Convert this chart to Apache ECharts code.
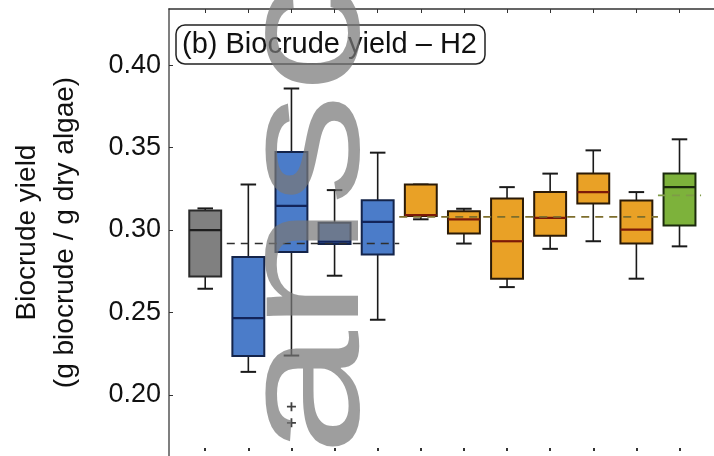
<!DOCTYPE html>
<html>
<head>
<meta charset="utf-8">
<script src="https://cdn.jsdelivr.net/npm/echarts@6/dist/echarts.min.js"></script>
<style>
  html, body { margin: 0; padding: 0; background: #fff; }
  #chart { width: 714px; height: 456px; }
</style>
</head>
<body>
<div id="chart"></div>
<script>
// box positions along x (one per reactor run)
var positions = [1, 2, 3, 4, 5, 6, 7, 8, 9, 10, 11, 12];
// group of each box: ref / blue / orange / green
var groups = ['ref', 'blue', 'blue', 'blue', 'blue', 'orange', 'orange', 'orange', 'orange', 'orange', 'orange', 'green'];
// [min, q1, median, q3, max]
var boxStats = [
    [0.2644, 0.2719, 0.2999, 0.3118, 0.3131],
    [0.2140, 0.2237, 0.2466, 0.2837, 0.3276],
    [0.2239, 0.2867, 0.3147, 0.3473, 0.3858],
    [0.2723, 0.2915, 0.2930, 0.3044, 0.3242],
    [0.2456, 0.2851, 0.3050, 0.3181, 0.3469],
    [0.3065, 0.3085, 0.3090, 0.3276, 0.3276],
    [0.2918, 0.2979, 0.3064, 0.3114, 0.3129],
    [0.2654, 0.2705, 0.2932, 0.3191, 0.3260],
    [0.2886, 0.2966, 0.3074, 0.3230, 0.3342],
    [0.2932, 0.3161, 0.3230, 0.3342, 0.3483],
    [0.2705, 0.2918, 0.3003, 0.3179, 0.3230],
    [0.2901, 0.3027, 0.3260, 0.3342, 0.3550]
];
// outliers [position, value]
var outliers = [[3, 0.1929], [3, 0.1831]];
// group means and their x span
var meanGroups = ['blue', 'orange', 'green'];
var meanValues = [0.2918, 0.3080, 0.3210];
var meanSpans = [[1.5, 5.5], [5.5, 11.5], [11.5, 12.5]];
var yTicks = [0.20, 0.25, 0.30, 0.35, 0.40];

var fill = { ref: '#808080', blue: '#4b7cc9', orange: '#e9a126', green: '#7db23b' };
var edge = { ref: '#2a2a2a', blue: '#14244a', orange: '#2b1a06', green: '#1b2a0c' };
var mid = { ref: '#1e1e1e', blue: '#13245a', orange: '#7c1a08', green: '#1b2a0c' };
var meanColor = { blue: '#2e2e2e', orange: '#7d6e2c', green: '#7f9b47' };

var font = '"Liberation Sans", Arial, Helvetica, sans-serif';

var boxData = positions.map(function (p, i) {
    return [p].concat(boxStats[i]);
});

var series = [{
    type: 'custom',
    xAxisIndex: 0,
    data: boxData,
    encode: { x: 0, y: [1, 2, 3, 4, 5] },
    z: 3,
    renderItem: function (params, api) {
        var g = groups[params.dataIndex];
        var x = api.value(0);
        var half = api.size([0.74, 0])[0] / 2;
        var cap = api.size([0.36, 0])[0] / 2;
        var pMin = api.coord([x, api.value(1)]);
        var pQ1 = api.coord([x, api.value(2)]);
        var pMed = api.coord([x, api.value(3)]);
        var pQ3 = api.coord([x, api.value(4)]);
        var pMax = api.coord([x, api.value(5)]);
        var ls = { stroke: '#1a1a1a', lineWidth: 1.6 };
        return {
            type: 'group',
            children: [
                { type: 'line', shape: { x1: pMax[0], y1: pMax[1], x2: pQ3[0], y2: pQ3[1] }, style: ls },
                { type: 'line', shape: { x1: pQ1[0], y1: pQ1[1], x2: pMin[0], y2: pMin[1] }, style: ls },
                { type: 'line', shape: { x1: pMax[0] - cap, y1: pMax[1], x2: pMax[0] + cap, y2: pMax[1] }, style: { stroke: '#1a1a1a', lineWidth: 2 } },
                { type: 'line', shape: { x1: pMin[0] - cap, y1: pMin[1], x2: pMin[0] + cap, y2: pMin[1] }, style: { stroke: '#1a1a1a', lineWidth: 2 } },
                { type: 'rect', shape: { x: pQ3[0] - half, y: pQ3[1], width: half * 2, height: pQ1[1] - pQ3[1] },
                  style: { fill: fill[g], stroke: edge[g], lineWidth: 2 } },
                { type: 'line', shape: { x1: pMed[0] - half, y1: pMed[1], x2: pMed[0] + half, y2: pMed[1] },
                  style: { stroke: mid[g], lineWidth: 2.2 } }
            ]
        };
    }
}, {
    type: 'scatter',
    xAxisIndex: 0,
    data: outliers,
    symbol: 'path://M4,0H6V4H10V6H6V10H4V6H0V4H4Z',
    symbolSize: 9,
    itemStyle: { color: '#111' },
    z: 4
}];

meanGroups.forEach(function (g, i) {
    series.push({
        type: 'line',
        xAxisIndex: 0,
        data: [[meanSpans[i][0], meanValues[i]], [meanSpans[i][1], meanValues[i]]],
        symbol: 'none',
        lineStyle: { color: meanColor[g], width: 1.6, type: [8, 6] },
        z: 5,
        silent: true
    });
});

var chart = echarts.init(document.getElementById('chart'));
chart.setOption({
    animation: false,
    backgroundColor: '#fff',
    title: {
        text: '(b) Biocrude yield – H2',
        left: 176,
        top: 25,
        padding: [3, 8, 3, 6],
        borderColor: '#222',
        borderWidth: 1.5,
        borderRadius: 9,
        textStyle: { fontFamily: font, fontSize: 29, fontWeight: 'normal', color: '#111', lineHeight: 33 }
    },
    grid: { left: 165, right: -2, top: 9, bottom: 0 },
    xAxis: [{
        type: 'value',
        position: 'top',
        min: 0.16,
        max: 12.8,
        axisLine: { show: true, lineStyle: { color: '#333', width: 1.5 } },
        axisTick: { show: true, inside: true, length: 4, customValues: positions, lineStyle: { color: '#333' } },
        axisLabel: { show: false },
        splitLine: { show: false }
    }, {
        type: 'value',
        position: 'bottom',
        offset: -5,
        min: 0.16,
        max: 12.8,
        axisLine: { show: false },
        axisTick: { show: true, inside: true, length: 3, customValues: positions, lineStyle: { color: '#333', width: 2 } },
        axisLabel: { show: false },
        splitLine: { show: false }
    }],
    yAxis: {
        type: 'value',
        min: 0.163,
        max: 0.434,
        name: 'Biocrude yield\n(g biocrude / g dry algae)',
        nameLocation: 'middle',
        nameRotate: 90,
        nameGap: 85,
        nameTextStyle: { fontFamily: font, fontSize: 28, color: '#111', lineHeight: 38 },
        axisLine: { show: true, lineStyle: { color: '#555', width: 1.5 } },
        axisTick: { show: true, inside: true, length: 4, customValues: yTicks, lineStyle: { color: '#333' } },
        axisLabel: {
            customValues: yTicks,
            margin: 8,
            fontFamily: font,
            fontSize: 27,
            color: '#111',
            formatter: function (v) { return v.toFixed(2); }
        },
        splitLine: { show: false }
    },
    graphic: [{
        type: 'text',
        x: 310,
        y: 456,
        rotation: Math.PI / 2,
        scaleX: 1.3,
        z: 100,
        silent: true,
        style: {
            text: 'ansc',
            fontFamily: font,
            fontSize: 173,
            fill: 'rgba(120,120,120,0.72)',
            align: 'left',
            verticalAlign: 'middle'
        }
    }],
    series: series
});
</script>
</body>
</html>
